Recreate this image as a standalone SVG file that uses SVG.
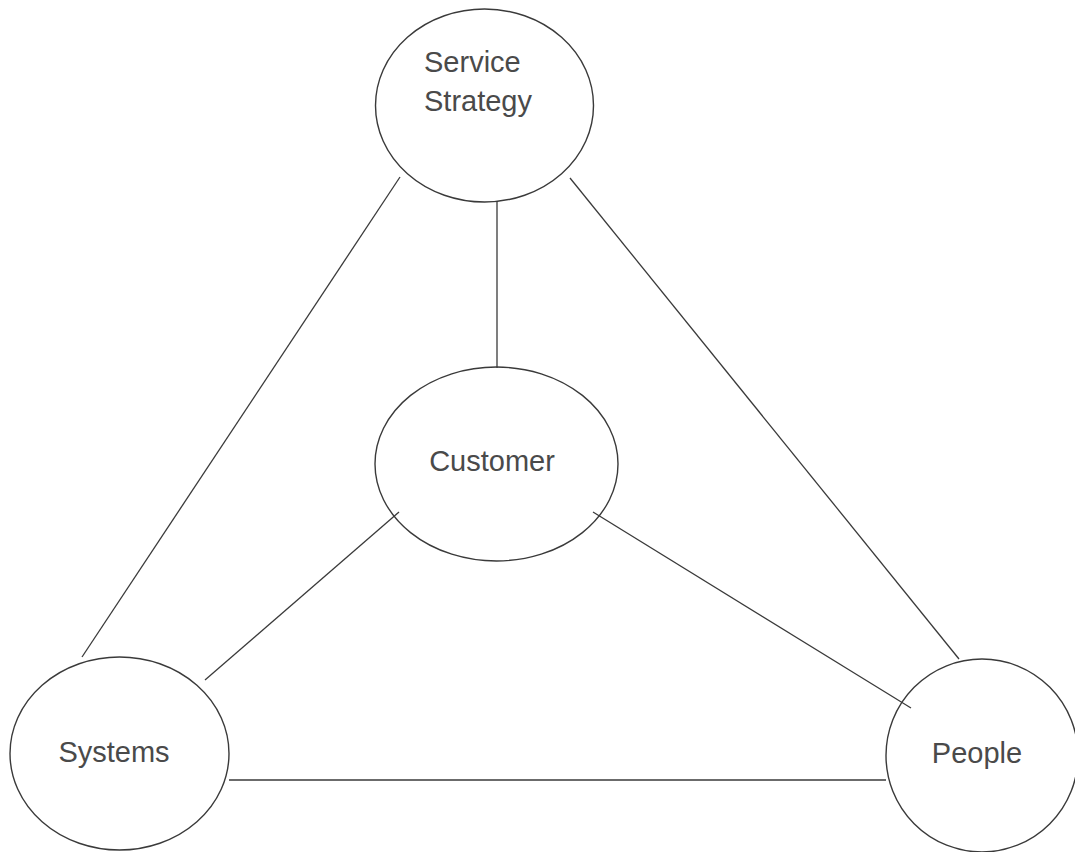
<svg xmlns="http://www.w3.org/2000/svg" width="1075" height="852" viewBox="0 0 1075 852">
  <style>
    .node { fill: none; stroke: #3a3a3a; stroke-width: 1.4; }
    .label { font-family: "Liberation Sans", Arial, sans-serif; font-size: 29px; fill: #4a4a4a; }
    .conn line { stroke: #3a3a3a; stroke-width: 1.3; }
  </style>
  <rect width="1075" height="852" fill="#ffffff"/>
  <g id="connectors" class="conn">
    <line x1="400" y1="177" x2="82" y2="657"/>
    <line x1="570" y1="178" x2="959" y2="659"/>
    <line x1="497" y1="202" x2="497" y2="368"/>
    <line x1="399" y1="512" x2="205" y2="680"/>
    <line x1="593" y1="512" x2="911" y2="708"/>
    <line x1="229" y1="780" x2="886" y2="780"/>
  </g>
  <g id="service-strategy">
    <ellipse class="node" cx="484.5" cy="105.5" rx="109" ry="96.5"/>
    <text class="label" x="424" y="72">Service</text>
    <text class="label" x="424" y="111">Strategy</text>
  </g>
  <g id="customer">
    <ellipse class="node" cx="496.5" cy="464" rx="121.5" ry="97"/>
    <text class="label" x="492" y="471" text-anchor="middle">Customer</text>
  </g>
  <g id="systems">
    <ellipse class="node" cx="119.5" cy="753.5" rx="109.5" ry="96.5"/>
    <text class="label" x="114" y="762" text-anchor="middle">Systems</text>
  </g>
  <g id="people">
    <ellipse class="node" cx="982" cy="755.5" rx="96" ry="96.5"/>
    <text class="label" x="977" y="763" text-anchor="middle">People</text>
  </g>
</svg>
